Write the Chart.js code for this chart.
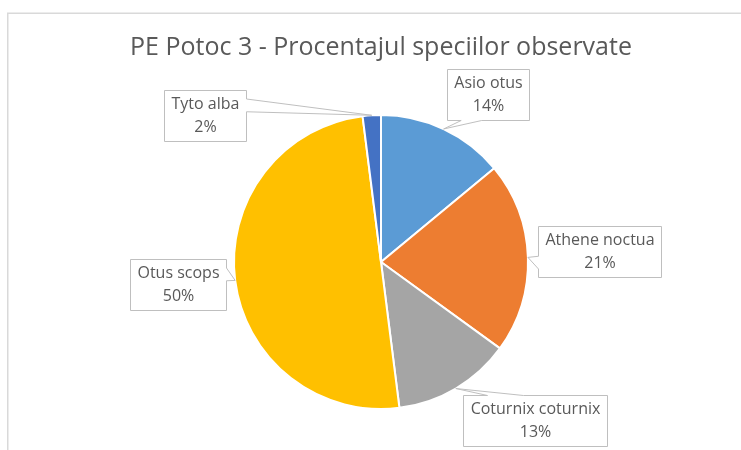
<!DOCTYPE html>
<html>
<head>
<meta charset="utf-8">
<script src="https://cdn.jsdelivr.net/npm/chart.js@4.4.0/dist/chart.umd.min.js"></script>
<style>
  html, body { margin: 0; padding: 0; background: #fff; }
</style>
</head>
<body>
<canvas id="pie" width="741" height="450"></canvas>
<script>
//! Data

const species = ["Asio otus", "Athene noctua", "Coturnix coturnix", "Otus scops", "Tyto alba"];
const shares = [14, 21, 13, 50, 2];
const sliceColors = ["#5B9BD5", "#ED7D31", "#A5A5A5", "#FFC000", "#4472C4"];

// where each callout box sits, measured from the tip on the slice edge
const calloutOffsets = [[44, -34], [72, -6], [79, 32], [-57, 4], [-167, 0]];

//! Plugins

const frame = {
  id: "frame",
  beforeDraw(chart) {
    const ctx = chart.ctx;
    ctx.save();
    ctx.strokeStyle = "#D9D9D9";
    ctx.lineWidth = 1.5;
    ctx.strokeRect(7.75, 13.25, 900, 600);
    ctx.restore();
  },
};

// Excel style "wedge rectangle" callout
function calloutPath(ctx, l, t, r, b, px, py) {
  const w = r - l, h = b - t;
  const dx = px - (l + r) / 2, dy = py - (t + b) / 2;
  const dz = Math.abs(dy) - Math.abs((dx * h) / w);
  const x1 = l + (w * (dx > 0 ? 7 : 2)) / 12, x2 = l + (w * (dx > 0 ? 10 : 5)) / 12;
  const y1 = t + (h * (dy > 0 ? 7 : 2)) / 12, y2 = t + (h * (dy > 0 ? 10 : 5)) / 12;
  ctx.beginPath();
  ctx.moveTo(l, t);
  if (dz > 0 && dy < 0) { ctx.lineTo(x1, t); ctx.lineTo(px, py); ctx.lineTo(x2, t); }
  ctx.lineTo(r, t);
  if (dz <= 0 && dx > 0) { ctx.lineTo(r, y1); ctx.lineTo(px, py); ctx.lineTo(r, y2); }
  ctx.lineTo(r, b);
  if (dz > 0 && dy > 0) { ctx.lineTo(x2, b); ctx.lineTo(px, py); ctx.lineTo(x1, b); }
  ctx.lineTo(l, b);
  if (dz <= 0 && dx < 0) { ctx.lineTo(l, y2); ctx.lineTo(px, py); ctx.lineTo(l, y1); }
  ctx.closePath();
}

const callouts = {
  id: "callouts",
  afterDatasetsDraw(chart) {
    const ctx = chart.ctx;
    const arcs = chart.getDatasetMeta(0).data;
    const total = shares.reduce((a, b) => a + b, 0);
    ctx.save();
    ctx.font = "16px 'Open Sans'";
    arcs.forEach((arc, i) => {
      const mid = (arc.startAngle + arc.endAngle) / 2;
      const tipX = arc.x + Math.cos(mid) * arc.outerRadius;
      const tipY = arc.y + Math.sin(mid) * arc.outerRadius;
      const lines = [species[i], Math.round((shares[i] / total) * 100) + "%"];
      const w = Math.round(Math.max(...lines.map((s) => ctx.measureText(s).width)) + 14);
      const h = 51;
      const cx = tipX + calloutOffsets[i][0];
      const cy = tipY + calloutOffsets[i][1];
      const l = Math.round(cx - w / 2) + 0.5, t = Math.round(cy - h / 2) + 0.5;

      calloutPath(ctx, l, t, l + w, t + h, tipX, tipY);
      ctx.fillStyle = "#FFFFFF";
      ctx.fill();
      ctx.strokeStyle = "#BFBFBF";
      ctx.lineWidth = 1;
      ctx.stroke();

      ctx.fillStyle = "#595959";
      ctx.textAlign = "center";
      ctx.textBaseline = "middle";
      ctx.fillText(lines[0], l + w / 2, t + h / 2 - 11.5);
      ctx.fillText(lines[1], l + w / 2, t + h / 2 + 11.5);
    });
    ctx.restore();
  },
};

//! Chart

new Chart(document.getElementById("pie"), {
  type: "pie",
  data: {
    labels: species,
    datasets: [
      {
        data: shares,
        backgroundColor: sliceColors,
        borderColor: "#FFFFFF",
        borderWidth: 2,
      },
    ],
  },
  plugins: [frame, callouts],
  options: {
    responsive: false,
    animation: false,
    events: [],
    layout: {
      padding: { left: 60, right: 39, top: 0, bottom: 40 },
    },
    plugins: {
      legend: { display: false },
      tooltip: { enabled: false },
      title: {
        display: true,
        text: "PE Potoc 3 - Procentajul speciilor observate",
        color: "#595959",
        font: { family: "'Open Sans'", size: 25, weight: "normal" },
        padding: { top: 33, bottom: 51 },
      },
    },
  },
});
</script>
</body>
</html>
